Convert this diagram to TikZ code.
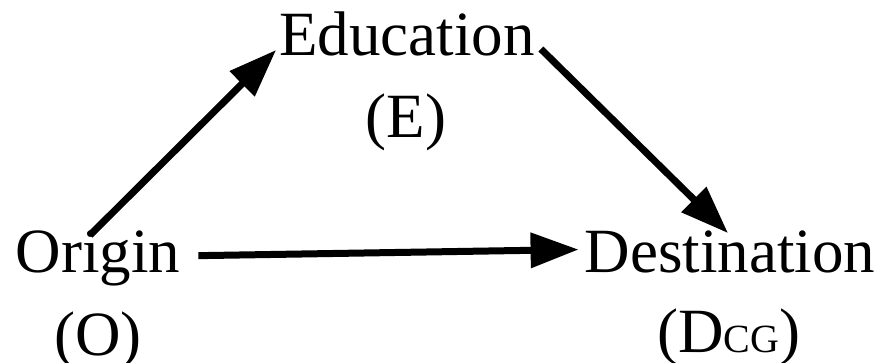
\documentclass[tikz,border=0pt]{standalone}
\usepackage{fontspec}
\setmainfont{Liberation Serif}
\usetikzlibrary{arrows.meta,positioning,calc}

\begin{document}
\begin{tikzpicture}[x=1pt,y=-1pt,>={Triangle[length=48pt,width=34pt]},
  lbl/.style={inner sep=0pt,anchor=base,font=\fontsize{63}{70}\selectfont},
  link/.style={line width=7pt,->}]
  \useasboundingbox (0,0) rectangle (885,362);
  \node[lbl] (edu) at (407,55) {Education};
  \node[lbl] (eduab) at (406,137) {(E)};
  \node[lbl] (orig) at (98,272) {Origin};
  \node[lbl] (origab) at (98,355) {(O)};
  \node[lbl] (dest) at (730,272) {Destination};
  \node[lbl] (destab) at (729,352) {(D{\fontsize{40}{40}\selectfont CG})};
  % the three paths
  \draw[link] ([shift={(-8,5)}]orig.north) -- ([shift={(-3,-5)}]edu.base west);
  \draw[link] ([shift={(6,-6)}]edu.base east) -- ([shift={(-2,3)}]dest.north);
  \draw[link,shorten <=18pt,shorten >=6pt] ([yshift=2pt]orig.east) -- ([yshift=2pt]dest.west);
\end{tikzpicture}
\end{document}
